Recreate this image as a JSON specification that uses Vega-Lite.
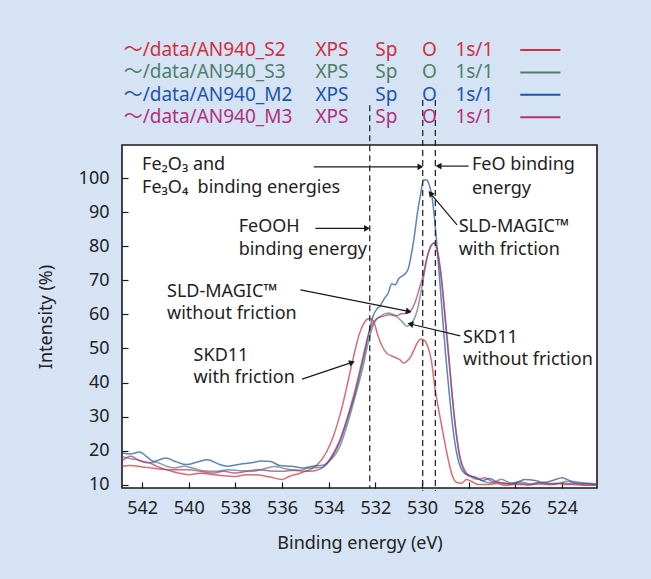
{
  "$schema": "https://vega.github.io/schema/vega-lite/v6.json",
  "width": 475,
  "height": 343,
  "autosize": {"type": "none"},
  "padding": {"left": 122, "top": 145, "right": 54, "bottom": 91},
  "background": "#d5e3f4",
  "config": {
    "font": "Noto Sans",
    "view": {"fill": "white", "stroke": "#1a1a1a", "strokeWidth": 1.6},
    "axis": {"labelFont": "Noto Sans", "titleFont": "Noto Sans", "labelOverlap": false, "labelBound": false, "labelFlush": false},
    "axisY": {"labelOverlap": false}
  },
  "datasets": {
    "curves": [
      {"series":"S2","E":542.85,"I":15.4},{"series":"S2","E":542.5,"I":15.6},{"series":"S2","E":542.0,"I":15.2},{"series":"S2","E":541.5,"I":14.8},{"series":"S2","E":541.0,"I":14.4},{"series":"S2","E":540.5,"I":13.5},{"series":"S2","E":540.0,"I":12.9},{"series":"S2","E":539.5,"I":13.3},{"series":"S2","E":539.0,"I":13.0},{"series":"S2","E":538.5,"I":12.6},{"series":"S2","E":538.0,"I":12.4},{"series":"S2","E":537.5,"I":12.9},{"series":"S2","E":537.0,"I":12.8},{"series":"S2","E":536.5,"I":12.2},{"series":"S2","E":536.0,"I":11.5},{"series":"S2","E":535.7,"I":12.4},{"series":"S2","E":535.3,"I":13.2},{"series":"S2","E":535.0,"I":13.9},{"series":"S2","E":534.7,"I":14.8},{"series":"S2","E":534.4,"I":16.5},{"series":"S2","E":534.1,"I":19.5},{"series":"S2","E":533.8,"I":24.2},{"series":"S2","E":533.6,"I":28.5},{"series":"S2","E":533.4,"I":33.5},{"series":"S2","E":533.2,"I":39.5},{"series":"S2","E":533.0,"I":45.7},{"series":"S2","E":532.85,"I":50.0},{"series":"S2","E":532.7,"I":54.0},{"series":"S2","E":532.5,"I":57.3},{"series":"S2","E":532.35,"I":58.6},{"series":"S2","E":532.2,"I":58.8},{"series":"S2","E":532.05,"I":57.5},{"series":"S2","E":531.9,"I":54.0},{"series":"S2","E":531.7,"I":50.5},{"series":"S2","E":531.5,"I":48.5},{"series":"S2","E":531.3,"I":47.8},{"series":"S2","E":531.1,"I":47.2},{"series":"S2","E":530.95,"I":46.7},{"series":"S2","E":530.8,"I":45.7},{"series":"S2","E":530.65,"I":46.3},{"series":"S2","E":530.5,"I":47.4},{"series":"S2","E":530.35,"I":49.5},{"series":"S2","E":530.2,"I":51.7},{"series":"S2","E":530.05,"I":52.8},{"series":"S2","E":529.9,"I":52.4},{"series":"S2","E":529.75,"I":50.5},{"series":"S2","E":529.6,"I":46.5},{"series":"S2","E":529.45,"I":38.5},{"series":"S2","E":529.3,"I":32.5},{"series":"S2","E":529.15,"I":27.0},{"series":"S2","E":529.0,"I":21.5},{"series":"S2","E":528.85,"I":16.5},{"series":"S2","E":528.7,"I":12.6},{"series":"S2","E":528.5,"I":10.6},{"series":"S2","E":528.3,"I":10.4},{"series":"S2","E":528.1,"I":11.5},{"series":"S2","E":527.9,"I":11.0},{"series":"S2","E":527.6,"I":10.0},{"series":"S2","E":527.2,"I":10.0},{"series":"S2","E":526.8,"I":10.3},{"series":"S2","E":526.4,"I":9.8},{"series":"S2","E":526.0,"I":10.1},{"series":"S2","E":525.5,"I":9.9},{"series":"S2","E":525.0,"I":10.2},{"series":"S2","E":524.5,"I":10.0},{"series":"S2","E":524.0,"I":10.5},{"series":"S2","E":523.5,"I":10.0},{"series":"S2","E":523.0,"I":9.8},{"series":"S2","E":522.5,"I":9.9},

      {"series":"S3","E":542.85,"I":18.3},{"series":"S3","E":542.5,"I":17.6},{"series":"S3","E":542.2,"I":17.3},{"series":"S3","E":541.8,"I":16.4},{"series":"S3","E":541.4,"I":16.6},{"series":"S3","E":541.0,"I":15.5},{"series":"S3","E":540.6,"I":14.9},{"series":"S3","E":540.2,"I":15.4},{"series":"S3","E":539.8,"I":14.8},{"series":"S3","E":539.3,"I":14.0},{"series":"S3","E":538.8,"I":13.9},{"series":"S3","E":538.3,"I":14.4},{"series":"S3","E":537.8,"I":14.1},{"series":"S3","E":537.3,"I":13.9},{"series":"S3","E":536.8,"I":14.6},{"series":"S3","E":536.3,"I":15.3},{"series":"S3","E":535.8,"I":14.6},{"series":"S3","E":535.3,"I":14.2},{"series":"S3","E":534.8,"I":14.9},{"series":"S3","E":534.3,"I":15.0},{"series":"S3","E":534.0,"I":16.6},{"series":"S3","E":533.7,"I":19.0},{"series":"S3","E":533.5,"I":21.5},{"series":"S3","E":533.3,"I":25.5},{"series":"S3","E":533.1,"I":30.0},{"series":"S3","E":532.9,"I":35.0},{"series":"S3","E":532.7,"I":40.0},{"series":"S3","E":532.5,"I":45.5},{"series":"S3","E":532.35,"I":50.5},{"series":"S3","E":532.2,"I":54.5},{"series":"S3","E":532.05,"I":57.5},{"series":"S3","E":531.8,"I":59.4},{"series":"S3","E":531.45,"I":60.4},{"series":"S3","E":531.1,"I":59.4},{"series":"S3","E":530.85,"I":57.9},{"series":"S3","E":530.65,"I":56.5},{"series":"S3","E":530.45,"I":57.4},{"series":"S3","E":530.2,"I":61.4},{"series":"S3","E":530.0,"I":68.2},{"series":"S3","E":529.8,"I":76.0},{"series":"S3","E":529.6,"I":80.5},{"series":"S3","E":529.45,"I":81.0},{"series":"S3","E":529.3,"I":77.5},{"series":"S3","E":529.15,"I":70.0},{"series":"S3","E":529.0,"I":59.0},{"series":"S3","E":528.85,"I":48.0},{"series":"S3","E":528.7,"I":36.0},{"series":"S3","E":528.55,"I":26.0},{"series":"S3","E":528.4,"I":18.5},{"series":"S3","E":528.2,"I":14.0},{"series":"S3","E":528.0,"I":12.5},{"series":"S3","E":527.7,"I":12.2},{"series":"S3","E":527.4,"I":11.0},{"series":"S3","E":527.0,"I":10.5},{"series":"S3","E":526.6,"I":11.6},{"series":"S3","E":526.2,"I":10.5},{"series":"S3","E":525.8,"I":10.8},{"series":"S3","E":525.3,"I":10.2},{"series":"S3","E":524.8,"I":10.6},{"series":"S3","E":524.3,"I":10.0},{"series":"S3","E":523.8,"I":11.0},{"series":"S3","E":523.3,"I":10.2},{"series":"S3","E":522.8,"I":10.4},{"series":"S3","E":522.5,"I":10.1},

      {"series":"M2","E":542.85,"I":19.3},{"series":"M2","E":542.5,"I":19.0},{"series":"M2","E":542.1,"I":19.6},{"series":"M2","E":541.8,"I":18.2},{"series":"M2","E":541.5,"I":16.8},{"series":"M2","E":541.0,"I":17.8},{"series":"M2","E":540.5,"I":16.6},{"series":"M2","E":540.1,"I":15.9},{"series":"M2","E":539.6,"I":16.7},{"series":"M2","E":539.2,"I":17.3},{"series":"M2","E":538.7,"I":16.0},{"series":"M2","E":538.3,"I":15.4},{"series":"M2","E":537.8,"I":16.0},{"series":"M2","E":537.3,"I":16.4},{"series":"M2","E":536.9,"I":16.9},{"series":"M2","E":536.5,"I":16.8},{"series":"M2","E":536.1,"I":15.6},{"series":"M2","E":535.6,"I":15.4},{"series":"M2","E":535.1,"I":14.9},{"series":"M2","E":534.7,"I":15.4},{"series":"M2","E":534.2,"I":15.8},{"series":"M2","E":533.95,"I":17.3},{"series":"M2","E":533.7,"I":20.0},{"series":"M2","E":533.5,"I":23.0},{"series":"M2","E":533.3,"I":27.0},{"series":"M2","E":533.1,"I":31.5},{"series":"M2","E":532.9,"I":36.0},{"series":"M2","E":532.7,"I":41.5},{"series":"M2","E":532.5,"I":47.5},{"series":"M2","E":532.3,"I":54.0},{"series":"M2","E":532.1,"I":59.5},{"series":"M2","E":531.95,"I":61.5},{"series":"M2","E":531.8,"I":62.5},{"series":"M2","E":531.6,"I":64.8},{"series":"M2","E":531.45,"I":66.3},{"series":"M2","E":531.3,"I":69.0},{"series":"M2","E":531.15,"I":68.7},{"series":"M2","E":531.0,"I":70.5},{"series":"M2","E":530.8,"I":71.5},{"series":"M2","E":530.6,"I":73.2},{"series":"M2","E":530.45,"I":78.0},{"series":"M2","E":530.35,"I":82.0},{"series":"M2","E":530.2,"I":89.7},{"series":"M2","E":530.07,"I":95.0},{"series":"M2","E":529.93,"I":99.6},{"series":"M2","E":529.8,"I":99.5},{"series":"M2","E":529.7,"I":98.3},{"series":"M2","E":529.57,"I":94.5},{"series":"M2","E":529.43,"I":85.8},{"series":"M2","E":529.3,"I":75.0},{"series":"M2","E":529.15,"I":62.0},{"series":"M2","E":529.0,"I":49.0},{"series":"M2","E":528.85,"I":38.0},{"series":"M2","E":528.7,"I":28.0},{"series":"M2","E":528.55,"I":20.5},{"series":"M2","E":528.4,"I":16.0},{"series":"M2","E":528.2,"I":13.5},{"series":"M2","E":528.0,"I":12.8},{"series":"M2","E":527.7,"I":12.0},{"series":"M2","E":527.4,"I":11.2},{"series":"M2","E":527.1,"I":11.8},{"series":"M2","E":526.8,"I":10.8},{"series":"M2","E":526.4,"I":10.3},{"series":"M2","E":526.0,"I":10.5},{"series":"M2","E":525.6,"I":11.5},{"series":"M2","E":525.2,"I":11.3},{"series":"M2","E":524.8,"I":10.6},{"series":"M2","E":524.4,"I":11.2},{"series":"M2","E":524.0,"I":12.0},{"series":"M2","E":523.6,"I":11.0},{"series":"M2","E":523.2,"I":10.6},{"series":"M2","E":522.8,"I":10.2},{"series":"M2","E":522.5,"I":10.0},

      {"series":"M3","E":542.85,"I":17.0},{"series":"M3","E":542.5,"I":18.3},{"series":"M3","E":542.1,"I":17.0},{"series":"M3","E":541.7,"I":16.4},{"series":"M3","E":541.3,"I":15.2},{"series":"M3","E":540.9,"I":14.4},{"series":"M3","E":540.5,"I":14.4},{"series":"M3","E":540.0,"I":14.4},{"series":"M3","E":539.5,"I":13.9},{"series":"M3","E":539.0,"I":13.4},{"series":"M3","E":538.5,"I":13.9},{"series":"M3","E":538.0,"I":13.4},{"series":"M3","E":537.5,"I":13.9},{"series":"M3","E":537.0,"I":14.4},{"series":"M3","E":536.5,"I":14.0},{"series":"M3","E":536.0,"I":13.9},{"series":"M3","E":535.5,"I":14.2},{"series":"M3","E":535.0,"I":13.9},{"series":"M3","E":534.6,"I":14.1},{"series":"M3","E":534.2,"I":15.4},{"series":"M3","E":533.95,"I":17.5},{"series":"M3","E":533.7,"I":20.5},{"series":"M3","E":533.5,"I":23.5},{"series":"M3","E":533.3,"I":27.5},{"series":"M3","E":533.1,"I":32.0},{"series":"M3","E":532.9,"I":37.0},{"series":"M3","E":532.7,"I":42.5},{"series":"M3","E":532.5,"I":48.5},{"series":"M3","E":532.3,"I":54.0},{"series":"M3","E":532.1,"I":57.5},{"series":"M3","E":531.9,"I":59.0},{"series":"M3","E":531.7,"I":59.4},{"series":"M3","E":531.4,"I":59.9},{"series":"M3","E":531.1,"I":59.6},{"series":"M3","E":530.9,"I":60.2},{"series":"M3","E":530.6,"I":60.4},{"series":"M3","E":530.4,"I":62.0},{"series":"M3","E":530.25,"I":64.5},{"series":"M3","E":530.1,"I":68.0},{"series":"M3","E":529.95,"I":71.5},{"series":"M3","E":529.8,"I":76.5},{"series":"M3","E":529.65,"I":79.5},{"series":"M3","E":529.5,"I":81.0},{"series":"M3","E":529.38,"I":79.5},{"series":"M3","E":529.22,"I":73.0},{"series":"M3","E":529.08,"I":64.0},{"series":"M3","E":528.95,"I":54.0},{"series":"M3","E":528.8,"I":43.0},{"series":"M3","E":528.65,"I":32.0},{"series":"M3","E":528.5,"I":23.5},{"series":"M3","E":528.35,"I":17.5},{"series":"M3","E":528.15,"I":14.0},{"series":"M3","E":527.9,"I":12.3},{"series":"M3","E":527.6,"I":11.6},{"series":"M3","E":527.3,"I":12.0},{"series":"M3","E":527.0,"I":10.9},{"series":"M3","E":526.6,"I":10.6},{"series":"M3","E":526.2,"I":10.2},{"series":"M3","E":525.8,"I":10.3},{"series":"M3","E":525.4,"I":10.0},{"series":"M3","E":525.0,"I":10.6},{"series":"M3","E":524.6,"I":10.2},{"series":"M3","E":524.2,"I":10.4},{"series":"M3","E":523.8,"I":10.0},{"series":"M3","E":523.4,"I":10.3},{"series":"M3","E":523.0,"I":9.9},{"series":"M3","E":522.5,"I":10.0}
    ],
    "refs": [
      {"E": 532.24, "top": 121.5, "bottom": 8.9},
      {"E": 529.97, "top": 123.0, "bottom": 8.2},
      {"E": 529.43, "top": 123.0, "bottom": 8.2}
    ],
    "notes": [
      {"E": 542.0, "I": 103.9, "text": "Fe₂O₃ and"},
      {"E": 542.0, "I": 97.1, "text": "Fe₃O₄\u00a0 binding energies"},
      {"E": 537.86, "I": 85.6, "text": "FeOOH"},
      {"E": 537.86, "I": 79.0, "text": "binding energy"},
      {"E": 527.86, "I": 103.9, "text": "FeO binding"},
      {"E": 527.86, "I": 96.8, "text": "energy"},
      {"E": 528.43, "I": 85.6, "text": "SLD-MAGIC™"},
      {"E": 528.43, "I": 79.0, "text": "with friction"},
      {"E": 540.93, "I": 66.7, "text": "SLD-MAGIC™"},
      {"E": 540.93, "I": 60.2, "text": "without friction"},
      {"E": 528.24, "I": 53.05, "text": "SKD11"},
      {"E": 528.24, "I": 46.5, "text": "without friction"},
      {"E": 539.79, "I": 47.65, "text": "SKD11"},
      {"E": 539.79, "I": 41.3, "text": "with friction"}
    ],
    "arrows": [
      {"id": 1, "E1": 534.64, "I1": 103.4, "E2": 530.07, "I2": 103.4},
      {"id": 2, "E1": 528.0, "I1": 103.6, "E2": 529.29, "I2": 103.6},
      {"id": 3, "E1": 534.57, "I1": 85.3, "E2": 532.36, "I2": 85.3},
      {"id": 4, "E1": 528.5, "I1": 86.3, "E2": 529.64, "I2": 95.6},
      {"id": 5, "E1": 535.21, "I1": 67.2, "E2": 530.57, "I2": 60.9},
      {"id": 6, "E1": 528.36, "I1": 53.7, "E2": 530.5, "I2": 57.2},
      {"id": 7, "E1": 535.14, "I1": 41.0, "E2": 533.0, "I2": 45.9}
    ],
    "legend": [
      {"series": "S2", "name": "～/data/AN940_S2"},
      {"series": "S3", "name": "～/data/AN940_S3"},
      {"series": "M2", "name": "～/data/AN940_M2"},
      {"series": "M3", "name": "～/data/AN940_M3"}
    ]
  },
  "layer": [
    {
      "encoding": {
        "x": {
          "type": "quantitative",
          "scale": {"domain": [522.5, 542.86], "reverse": true, "nice": false, "zero": false},
          "axis": {
            "values": [524, 526, 528, 530, 532, 534, 536, 538, 540, 542],
            "format": "d", "labelOverlap": false,
            "domain": false, "grid": false,
            "tickSize": -6, "tickColor": "#1a1a1a", "tickWidth": 1.2,
            "labelFontSize": 18, "labelColor": "#222", "labelPadding": 17,
            "title": "Binding energy (eV)", "titleFontSize": 18, "titleFontWeight": "normal",
            "titleColor": "#222", "titlePadding": 17
          }
        },
        "y": {
          "type": "quantitative",
          "scale": {"domain": [9, 109.8], "nice": false, "zero": false},
          "axis": {
            "values": [10, 20, 30, 40, 50, 60, 70, 80, 90, 100],
            "format": "d", "labelOverlap": false,
            "domain": false, "grid": false,
            "tickSize": -6, "tickColor": "#1a1a1a", "tickWidth": 1.2,
            "labelFontSize": 18, "labelColor": "#222", "labelPadding": 19,
            "title": "Intensity (%)", "titleFontSize": 18, "titleFontWeight": "normal",
            "titleColor": "#222", "titlePadding": 23
          }
        }
      },
      "layer": [
        {
          "data": {"name": "curves"},
          "mark": {"type": "line", "strokeWidth": 1.5, "opacity": 0.72, "interpolate": "monotone"},
          "encoding": {
            "x": {"field": "E"},
            "y": {"field": "I"},
            "color": {
              "field": "series", "type": "nominal",
              "scale": {"domain": ["S2", "S3", "M2", "M3"], "range": ["#d22f3c", "#4f7f68", "#1d55a8", "#b3307f"]},
              "legend": null
            }
          }
        },
        {
          "data": {"name": "refs"},
          "mark": {"type": "rule", "color": "#1a1a1a", "strokeWidth": 1.2, "strokeDash": [6, 4]},
          "encoding": {
            "x": {"field": "E"},
            "y": {"field": "top"},
            "y2": {"field": "bottom"}
          }
        },
        {
          "data": {"name": "notes"},
          "mark": {"type": "text", "align": "left", "baseline": "middle", "fontSize": 18, "color": "#222", "font": "Noto Sans"},
          "encoding": {
            "x": {"field": "E"},
            "y": {"field": "I"},
            "text": {"field": "text"}
          }
        },
        {
          "data": {"name": "arrows"},
          "mark": {"type": "rule", "color": "#1a1a1a", "strokeWidth": 1.2},
          "encoding": {
            "x": {"field": "E1"},
            "y": {"field": "I1"},
            "x2": {"field": "E2"},
            "y2": {"field": "I2"}
          }
        },
        {
          "data": {"name": "arrows"},
          "transform": [{"filter": "datum.id == 1 || datum.id == 3"}],
          "mark": {"type": "point", "shape": "triangle-right", "filled": true, "color": "#1a1a1a", "size": 45, "opacity": 1, "angle": 0},
          "encoding": {"x": {"field": "E2"}, "y": {"field": "I2"}}
        },
        {
          "data": {"name": "arrows"},
          "transform": [{"filter": "datum.id == 2"}],
          "mark": {"type": "point", "shape": "triangle-right", "filled": true, "color": "#1a1a1a", "size": 45, "opacity": 1, "angle": 180},
          "encoding": {"x": {"field": "E2"}, "y": {"field": "I2"}}
        },
        {
          "data": {"name": "arrows"},
          "transform": [{"filter": "datum.id == 4"}],
          "mark": {"type": "point", "shape": "triangle-right", "filled": true, "color": "#1a1a1a", "size": 45, "opacity": 1, "angle": 230},
          "encoding": {"x": {"field": "E2"}, "y": {"field": "I2"}}
        },
        {
          "data": {"name": "arrows"},
          "transform": [{"filter": "datum.id == 5"}],
          "mark": {"type": "point", "shape": "triangle-right", "filled": true, "color": "#1a1a1a", "size": 45, "opacity": 1, "angle": 11},
          "encoding": {"x": {"field": "E2"}, "y": {"field": "I2"}}
        },
        {
          "data": {"name": "arrows"},
          "transform": [{"filter": "datum.id == 6"}],
          "mark": {"type": "point", "shape": "triangle-right", "filled": true, "color": "#1a1a1a", "size": 45, "opacity": 1, "angle": 193},
          "encoding": {"x": {"field": "E2"}, "y": {"field": "I2"}}
        },
        {
          "data": {"name": "arrows"},
          "transform": [{"filter": "datum.id == 7"}],
          "mark": {"type": "point", "shape": "triangle-right", "filled": true, "color": "#1a1a1a", "size": 45, "opacity": 1, "angle": 342},
          "encoding": {"x": {"field": "E2"}, "y": {"field": "I2"}}
        }
      ]
    },
    {
      "data": {"name": "legend"},
      "encoding": {
        "y": {
          "field": "series", "type": "nominal", "sort": ["S2", "S3", "M2", "M3"],
          "scale": {"type": "point", "range": [-95, -27.7], "padding": 0},
          "axis": null
        },
        "color": {"field": "series", "type": "nominal", "legend": null}
      },
      "layer": [
        {
          "mark": {"type": "text", "align": "left", "baseline": "middle", "fontSize": 19, "font": "'Noto Sans', 'Noto Sans CJK JP'"},
          "encoding": {"x": {"datum": 542.79, "type": "quantitative"}, "text": {"field": "name"}}
        },
        {
          "mark": {"type": "text", "align": "left", "baseline": "middle", "fontSize": 19, "font": "Noto Sans"},
          "encoding": {"x": {"datum": 534.57, "type": "quantitative"}, "text": {"value": "XPS"}}
        },
        {
          "mark": {"type": "text", "align": "left", "baseline": "middle", "fontSize": 19, "font": "Noto Sans"},
          "encoding": {"x": {"datum": 532.0, "type": "quantitative"}, "text": {"value": "Sp"}}
        },
        {
          "mark": {"type": "text", "align": "left", "baseline": "middle", "fontSize": 19, "font": "Noto Sans"},
          "encoding": {"x": {"datum": 530.0, "type": "quantitative"}, "text": {"value": "O"}}
        },
        {
          "mark": {"type": "text", "align": "left", "baseline": "middle", "fontSize": 19, "font": "Noto Sans"},
          "encoding": {"x": {"datum": 528.57, "type": "quantitative"}, "text": {"value": "1s/1"}}
        },
        {
          "mark": {"type": "rule", "strokeWidth": 2},
          "encoding": {"x": {"datum": 525.79, "type": "quantitative"}, "x2": {"datum": 524.07}}
        }
      ]
    }
  ],
  "resolve": {"scale": {"y": "independent"}}
}
